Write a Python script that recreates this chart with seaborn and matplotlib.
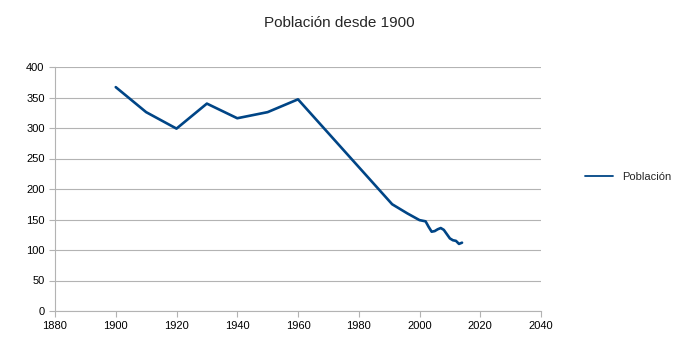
import numpy as np
import pandas as pd
import matplotlib
matplotlib.use('Agg')
import matplotlib.pyplot as plt
import seaborn as sns

# Population data
years = [1900, 1910, 1920, 1930, 1940, 1950, 1960, 1991, 1996, 2000, 2001, 2002,
         2003, 2004, 2005, 2006, 2007, 2008, 2009, 2010, 2011, 2012, 2013, 2014]
poblacion = [367, 326, 299, 340, 316, 326, 347, 175, 160, 149, 148, 147,
             138, 130, 131, 134, 136, 133, 126, 119, 116, 115, 110, 112]

df = pd.DataFrame({'year': years, 'Población': poblacion})

sns.set_style('white')
plt.rcParams['font.family'] = ['Liberation Sans', 'DejaVu Sans']

fig = plt.figure(figsize=(6.79, 3.54), dpi=100)
ax = fig.add_axes([55/679, 1 - 311/354, 486/679, 244/354])

sns.lineplot(data=df, x='year', y='Población', color='#004586', linewidth=1.9,
             label='Población', ax=ax)

ax.set_xlim(1880, 2040)
ax.set_ylim(0, 400)
ax.set_xticks(np.arange(1880, 2041, 20))
ax.set_yticks(np.arange(0, 401, 50))
ax.set_xlabel('')
ax.set_ylabel('')
ax.yaxis.grid(True, color='#b3b3b3', linewidth=0.8)
ax.set_axisbelow(True)
for s in ['top', 'right']:
    ax.spines[s].set_visible(False)
for s in ['left', 'bottom']:
    ax.spines[s].set_color('#b3b3b3')
ax.tick_params(axis='both', direction='out', length=4, color='#b3b3b3',
               labelsize=8, labelcolor='black', left=True, bottom=True)

fig.suptitle('Población desde 1900', x=0.5, y=0.955, fontsize=11)
leg = ax.legend(loc='center left', bbox_to_anchor=(1.07, 0.55), frameon=False,
                fontsize=8, handlelength=2.5)
for line in leg.get_lines():
    line.set_linewidth(1.3)

fig.savefig('out.png', dpi=100)
